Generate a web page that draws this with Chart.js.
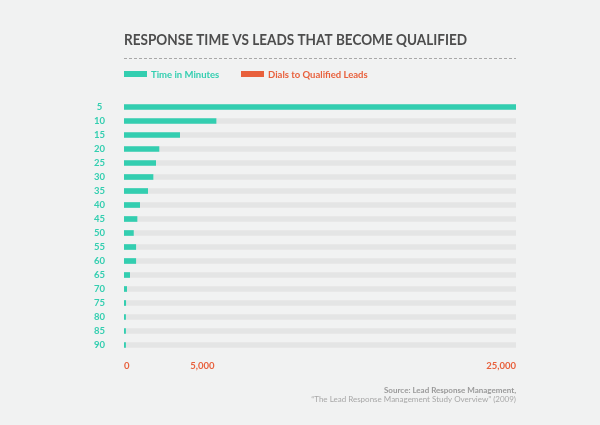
<!DOCTYPE html>
<html>
<head>
<meta charset="utf-8">
<script src="https://cdn.jsdelivr.net/npm/chart.js@4"></script>
<style>
  html, body { margin: 0; padding: 0; background: #f1f2f2; }
  #wrap { width: 600px; height: 425px; position: relative; }
</style>
</head>
<body>
<div id="wrap"><canvas id="chart" width="600" height="425"></canvas></div>
<script>
/* ── Data ─────────────────────────────────────────────── */
const categories = ["5", "10", "15", "20", "25", "30", "35", "40", "45",
                    "50", "55", "60", "65", "70", "75", "80", "85", "90"];
const minutesValues = [25000, 5870, 3550, 2230, 2020, 1850, 1510, 1000, 830,
                       600, 750, 750, 360, 170, 110, 100, 100, 100];
const trackValues = categories.map(() => 25000);
const xTicks = [0, 5000, 25000];

/* ── Colours / text ───────────────────────────────────── */
const TEAL = "#33ceb0";
const ORANGE = "#e8603c";
const TRACK = "#e4e5e5";
const TITLE = "RESPONSE TIME VS LEADS THAT BECOME QUALIFIED";
const LEGEND = [
  { text: "Time in Minutes", color: TEAL },
  { text: "Dials to Qualified Leads", color: ORANGE },
];
const SOURCE1 = "Source: Lead Response Management,";
const SOURCE2 = "\u201CThe Lead Response Management Study Overview\u201D (2009)";

const FONT = "Lato, 'Open Sans', sans-serif";

/* ── Decorations: title, dashed rule, legend, source ──── */
const decor = {
  id: "decor",
  afterDraw(chart) {
    const ctx = chart.ctx;
    const left = chart.chartArea.left;
    const right = chart.chartArea.right;
    ctx.save();

    // title
    ctx.fillStyle = "#4d4d4d";
    ctx.font = "bold 16px " + FONT;
    ctx.textBaseline = "middle";
    ctx.textAlign = "left";
    ctx.fillText(TITLE, left, 40, 343);

    // dashed rule
    ctx.strokeStyle = "#a8a8a8";
    ctx.lineWidth = 1;
    ctx.setLineDash([3, 2]);
    ctx.beginPath();
    ctx.moveTo(left, 58.5);
    ctx.lineTo(right, 58.5);
    ctx.stroke();
    ctx.setLineDash([]);

    // legend
    ctx.font = "bold 9.5px " + FONT;
    let x = left;
    LEGEND.forEach((item, i) => {
      ctx.fillStyle = item.color;
      ctx.fillRect(x, 71, 23, 6);
      ctx.fillText(item.text, x + 27, 74.5);
      x = i === 0 ? 241 : x;
    });

    // source
    ctx.textAlign = "right";
    ctx.fillStyle = "#9a9a9a";
    ctx.font = "bold 8px " + FONT;
    ctx.fillText(SOURCE1, right, 390.5);
    ctx.fillStyle = "#a8a8a8";
    ctx.font = "8px " + FONT;
    ctx.fillText(SOURCE2, right, 399.5);

    ctx.restore();
  },
};

/* ── Chart ────────────────────────────────────────────── */
new Chart(document.getElementById("chart"), {
  type: "bar",
  data: {
    labels: categories,
    datasets: [
      {
        label: "Time in Minutes",
        data: minutesValues,
        backgroundColor: TEAL,
        barThickness: 5,
        grouped: false,
        order: 0,
      },
      {
        label: "track",
        data: trackValues,
        backgroundColor: TRACK,
        barThickness: 5,
        grouped: false,
        order: 1,
      },
    ],
  },
  options: {
    indexAxis: "y",
    responsive: false,
    animation: false,
    layout: { padding: { left: 80, right: 84, top: 100, bottom: 53 } },
    plugins: {
      legend: { display: false },
      tooltip: { enabled: false },
    },
    scales: {
      x: {
        min: 0,
        max: 25000,
        afterBuildTicks: (s) => { s.ticks = xTicks.map((v) => ({ value: v })); },
        afterFit: (s) => { s.height = 20; },
        grid: { display: false, drawTicks: false },
        border: { display: false },
        ticks: {
          align: "inner",
          padding: 8,
          color: ORANGE,
          font: { family: FONT, size: 9.5, weight: "bold" },
          callback: (v) => v.toLocaleString("en-US"),
        },
      },
      y: {
        afterFit: (s) => { s.width = 44; },
        grid: { display: false, drawTicks: false },
        border: { display: false },
        ticks: {
          autoSkip: false,
          crossAlign: "center",
          padding: 19,
          color: TEAL,
          font: { family: FONT, size: 9.5, weight: "bold" },
        },
      },
    },
  },
  plugins: [decor],
});
</script>
</body>
</html>
